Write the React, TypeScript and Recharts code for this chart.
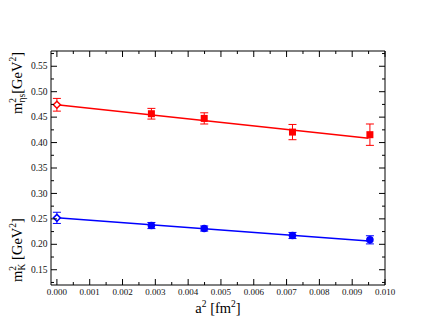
import React from "react";
import { ComposedChart, Scatter, Line, XAxis, YAxis, ErrorBar } from "recharts";

// lattice spacings a^2 [fm^2]
const aSq = [0.00288, 0.00449, 0.00718, 0.00954];
// m^2 eta_s [GeV^2]
const etaS = [0.4567, 0.4475, 0.4206, 0.4155];
const etaSErr = [0.0105, 0.011, 0.015, 0.021];
// m^2 K [GeV^2]
const kaon = [0.2369, 0.231, 0.2173, 0.2088];
const kaonErr = [0.006, 0.005, 0.006, 0.008];
// continuum (a=0) values
const contA = [0];
const etaSCont = [0.4743];
const etaSContErr = [0.0125];
const kaonCont = [0.252];
const kaonContErr = [0.011];
// fit line end points
const fitA = [0, 0.0095];
const etaSFit = [0.4743, 0.4085];
const kaonFit = [0.252, 0.2065];

const xMajor = [0, 0.001, 0.002, 0.003, 0.004, 0.005, 0.006, 0.007, 0.008, 0.009, 0.01];
const xMinor = [0.0005, 0.0015, 0.0025, 0.0035, 0.0045, 0.0055, 0.0065, 0.0075, 0.0085, 0.0095];
const yMajor = [0.15, 0.2, 0.25, 0.3, 0.35, 0.4, 0.45, 0.5, 0.55];
const yMinor = [0.125, 0.175, 0.225, 0.275, 0.325, 0.375, 0.425, 0.475, 0.525, 0.575];

const xTicks = [...xMajor, ...xMinor].sort((p, q) => p - q);
const yTicks = [...yMajor, ...yMinor].sort((p, q) => p - q);
const xDomain = [-0.00018, 0.01];
const yDomain = [0.12, 0.58];

const FONT = "Liberation Serif, Times New Roman, DejaVu Serif, serif";
const RED = "#ff0000";
const BLUE = "#0000ff";
const txt = { fontFamily: FONT };

const pts = (xs: number[], vs: number[], es?: number[]) =>
  xs.map((a, i) => ({ a, v: vs[i], e: es ? es[i] : 0 }));

const isMajor = (v: number, list: number[]) => list.some((m) => Math.abs(m - v) < 1e-9);

const xTick = (side: "bottom" | "top") => (p: any) => {
  const major = isMajor(p.payload.value, xMajor);
  const len = major ? 6 : 3;
  const dir = side === "bottom" ? -1 : 1;
  return (
    <g>
      <line x1={p.x} x2={p.x} y1={p.y} y2={p.y + dir * len} stroke="#000" />
      {side === "bottom" && major && (
        <text x={p.x} y={p.y + 10} textAnchor="middle" fontSize={9} style={txt} fill="#111">
          {p.payload.value.toFixed(3)}
        </text>
      )}
    </g>
  );
};

const yTick = (side: "left" | "right") => (p: any) => {
  const major = isMajor(p.payload.value, yMajor);
  const len = major ? 6 : 3;
  const dir = side === "left" ? 1 : -1;
  return (
    <g>
      <line x1={p.x} x2={p.x + dir * len} y1={p.y} y2={p.y} stroke="#000" />
      {side === "left" && major && (
        <text x={p.x - 3.5} y={p.y} dy="0.33em" textAnchor="end" fontSize={9.5} style={txt} fill="#111">
          {p.payload.value.toFixed(2)}
        </text>
      )}
    </g>
  );
};

function YTitle({ x, y, sub, gap }: { x: number; y: number; sub: string; gap: string }) {
  return (
    <text transform={`translate(${x},${y}) rotate(-90)`} textAnchor="middle" fontSize={14.5} style={txt} fill="#000">
      m
      <tspan dy={-6} fontSize={9.5}>2</tspan>
      <tspan dx={-4.5} dy={9} fontSize={9.5}>{sub}</tspan>
      <tspan dy={-3}>{gap}[GeV</tspan>
      <tspan dy={-6} fontSize={9.5}>2</tspan>
      <tspan dy={6}>]</tspan>
    </text>
  );
}

const yLabels = (p: any) => {
  const vb = p.viewBox;
  return (
    <g>
      <YTitle x={vb.x + 1} y={vb.y + 32} sub="ηs" gap="" />
      <YTitle x={vb.x + 1} y={vb.y + 199} sub="K" gap=" " />
    </g>
  );
};

const xLabel = (p: any) => {
  const vb = p.viewBox;
  return (
    <text x={vb.x + vb.width / 2} y={vb.y + 28} textAnchor="middle" fontSize={14.5} style={txt} fill="#000">
      a<tspan dy={-6} fontSize={9.5}>2</tspan>
      <tspan dy={6}> [fm</tspan>
      <tspan dy={-6} fontSize={9.5}>2</tspan>
      <tspan dy={6}>]</tspan>
    </text>
  );
};

const square = (color: string) => (p: any) => (
  <rect x={p.cx - 3.5} y={p.cy - 3.5} width={7} height={7} fill={color} />
);
const circle = (color: string) => (p: any) => <circle cx={p.cx} cy={p.cy} r={3.8} fill={color} />;
const diamond = (color: string) => (p: any) => (
  <path
    d={`M${p.cx},${p.cy - 3.5}L${p.cx + 3.5},${p.cy}L${p.cx},${p.cy + 3.5}L${p.cx - 3.5},${p.cy}Z`}
    fill="#fff"
    stroke={color}
    strokeWidth={1.5}
  />
);

export default function App() {
  return (
    <div style={{ position: "absolute", left: 0, top: 0, width: 434, height: 336, background: "#fff" }}>
      <ComposedChart width={434} height={336} margin={{ top: 50, right: 48, bottom: 31, left: 21 }}>
        <XAxis
          xAxisId="b"
          dataKey="a"
          type="number"
          orientation="bottom"
          domain={xDomain}
          allowDataOverflow
          ticks={xTicks}
          interval={0}
          height={20}
          tickSize={0}
          tickMargin={0}
          tickLine={false}
          tick={xTick("bottom")}
          axisLine={{ stroke: "#000" }}
          label={xLabel}
        />
        <XAxis
          xAxisId="t"
          dataKey="a"
          type="number"
          orientation="top"
          domain={xDomain}
          allowDataOverflow
          ticks={xTicks}
          interval={0}
          height={1}
          tickSize={0}
          tickMargin={0}
          tickLine={false}
          tick={xTick("top")}
          axisLine={{ stroke: "#000" }}
        />
        <YAxis
          yAxisId="l"
          dataKey="v"
          type="number"
          orientation="left"
          domain={yDomain}
          allowDataOverflow
          ticks={yTicks}
          interval={0}
          width={30}
          tickSize={0}
          tickMargin={0}
          tickLine={false}
          tick={yTick("left")}
          axisLine={{ stroke: "#000" }}
          label={yLabels}
        />
        <YAxis
          yAxisId="r"
          dataKey="v"
          type="number"
          orientation="right"
          domain={yDomain}
          allowDataOverflow
          ticks={yTicks}
          interval={0}
          width={1}
          tickSize={0}
          tickMargin={0}
          tickLine={false}
          tick={yTick("right")}
          axisLine={{ stroke: "#000" }}
        />
        <Line
          xAxisId="b"
          yAxisId="l"
          data={pts(fitA, etaSFit)}
          dataKey="v"
          stroke={RED}
          strokeWidth={1.5}
          dot={false}
          isAnimationActive={false}
        />
        <Line
          xAxisId="b"
          yAxisId="l"
          data={pts(fitA, kaonFit)}
          dataKey="v"
          stroke={BLUE}
          strokeWidth={1.5}
          dot={false}
          isAnimationActive={false}
        />
        <Scatter xAxisId="b" yAxisId="l" data={pts(aSq, etaS, etaSErr)} dataKey="v" shape={square(RED)} isAnimationActive={false}>
          <ErrorBar dataKey="e" direction="y" width={4} stroke={RED} strokeWidth={1} />
        </Scatter>
        <Scatter xAxisId="b" yAxisId="l" data={pts(contA, etaSCont, etaSContErr)} dataKey="v" shape={diamond(RED)} isAnimationActive={false}>
          <ErrorBar dataKey="e" direction="y" width={4} stroke={RED} strokeWidth={1} />
        </Scatter>
        <Scatter xAxisId="b" yAxisId="l" data={pts(aSq, kaon, kaonErr)} dataKey="v" shape={circle(BLUE)} isAnimationActive={false}>
          <ErrorBar dataKey="e" direction="y" width={4} stroke={BLUE} strokeWidth={1} />
        </Scatter>
        <Scatter xAxisId="b" yAxisId="l" data={pts(contA, kaonCont, kaonContErr)} dataKey="v" shape={diamond(BLUE)} isAnimationActive={false}>
          <ErrorBar dataKey="e" direction="y" width={4} stroke={BLUE} strokeWidth={1} />
        </Scatter>
      </ComposedChart>
    </div>
  );
}
